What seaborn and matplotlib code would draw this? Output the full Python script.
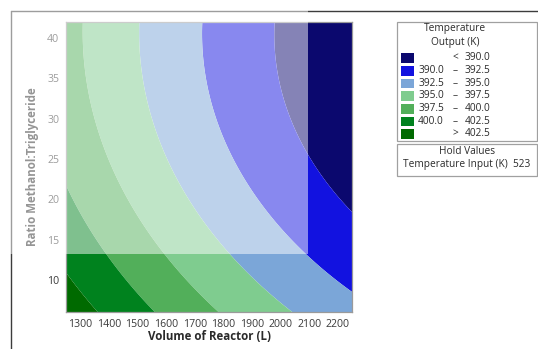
import numpy as np
import matplotlib
matplotlib.use("Agg")
import matplotlib.pyplot as plt
from matplotlib.patches import Rectangle
from matplotlib.lines import Line2D
import seaborn as sns

# Fitted response surface for Temperature Output (K), coded units:
# u = (Volume - 1750) / 500, w = (Ratio - 24) / 18
# terms: const, u, w, u^2, w^2, u*w
model_terms = ["const", "u", "w", "u2", "w2", "uw"]
model_coef = [393.5286, -5.3098, -2.8012, 0.7802, 1.5242, 0.0499]
volume_center, volume_half = 1750.0, 500.0
ratio_center, ratio_half = 24.0, 18.0

volume_range = [1250, 2250]
ratio_range = [6, 42]
x_ticks = [1300, 1400, 1500, 1600, 1700, 1800, 1900, 2000, 2100, 2200]
y_ticks = [10, 15, 20, 25, 30, 35, 40]

breaks = [390.0, 392.5, 395.0, 397.5, 400.0, 402.5]
band_colors = ["#0B086E", "#1212E0", "#7BA6D8", "#7FCC8F",
               "#52AF5A", "#00821E", "#006A00"]
hold_name = "Temperature Input (K)"
hold_value = 523

sns.set_style("white")
plt.rcParams["font.family"] = ["Open Sans", "DejaVu Sans"]

W, H = 538, 349
fig = plt.figure(figsize=(W / 100, H / 100), dpi=100)


def fx(px):
    return px / W


def fy(py):
    return 1 - py / H


ax = fig.add_axes([fx(66), fy(312), fx(352) - fx(66), fy(22) - fy(312)])

vv = np.linspace(volume_range[0], volume_range[1], 400)
rr = np.linspace(ratio_range[0], ratio_range[1], 400)
VV, RR = np.meshgrid(vv, rr)
uu = (VV - volume_center) / volume_half
ww = (RR - ratio_center) / ratio_half
c = model_coef
T = c[0] + c[1] * uu + c[2] * ww + c[3] * uu ** 2 + c[4] * ww ** 2 + c[5] * uu * ww

palette = sns.color_palette(band_colors)
levels = [-1e9] + breaks + [1e9]
ax.contourf(VV, RR, T, levels=levels, colors=palette, antialiased=True)

ax.set_xlim(volume_range)
ax.set_ylim(ratio_range)
ax.set_xticks(x_ticks)
ax.set_yticks(y_ticks)
ax.tick_params(axis="both", direction="out", length=3, width=0.8,
               color="#8c8c8c", labelsize=7.6, labelcolor="#3a3a3a", pad=2)
for s in ax.spines.values():
    s.set_visible(True)
    s.set_color("#9a9a9a")
    s.set_linewidth(0.9)

ax.set_xlabel("Volume of Reactor (L)", fontsize=8.3, fontweight="bold",
              color="#2a2a2a", va="center")
ax.xaxis.set_label_coords(0.5, (312 - 337) / 290)
ax.set_ylabel("Ratio Methanol:Triglyceride", fontsize=8.3, fontweight="bold",
              color="#2a2a2a", va="center")
ax.yaxis.set_label_coords((33 - 66) / 286, 0.5)

# outer frame of the graph window
fig.add_artist(Line2D([fx(11), 1], [fy(10.5), fy(10.5)], color="#3c3c3c", lw=1.0,
                      transform=fig.transFigure, zorder=2))
fig.add_artist(Line2D([fx(11), fx(11)], [fy(10.5), 0], color="#3c3c3c", lw=1.0,
                      transform=fig.transFigure, zorder=2))

# light wash over the upper-left part of the page
fig.add_artist(Rectangle((0, fy(254)), fx(308), 1 - fy(254), facecolor="white",
                         alpha=0.5, edgecolor="none", transform=fig.transFigure,
                         zorder=10))

# contour legend
box_l, box_r = 397, 537
fig.add_artist(Rectangle((fx(box_l), fy(141)), fx(box_r) - fx(box_l), fy(22) - fy(141),
                         facecolor="white", edgecolor="#a0a0a0", lw=0.9,
                         transform=fig.transFigure, zorder=3))
fig.add_artist(Rectangle((fx(box_l), fy(176)), fx(box_r) - fx(box_l), fy(144) - fy(176),
                         facecolor="white", edgecolor="#a0a0a0", lw=0.9,
                         transform=fig.transFigure, zorder=3))

txt = dict(fontsize=7.3, color="#2a2a2a", zorder=4)
fig.text(fx(455), fy(29), "Temperature", ha="center", va="center", **txt)
fig.text(fx(455), fy(43), "Output (K)", ha="center", va="center", **txt)

rows = [("", "<", f"{breaks[0]:.1f}")]
for lo, hi in zip(breaks[:-1], breaks[1:]):
    rows.append((f"{lo:.1f}", "\u2013", f"{hi:.1f}"))
rows.append(("", ">", f"{breaks[-1]:.1f}"))
row_y = [58, 70.7, 83.3, 96, 108.7, 121.3, 134]
for (a, op, b), yy, col in zip(rows, row_y, band_colors):
    fig.add_artist(Rectangle((fx(401), fy(yy + 4.8)), fx(414) - fx(401), fy(yy - 4.8) - fy(yy + 4.8),
                             facecolor=col, edgecolor="none",
                             transform=fig.transFigure, zorder=4))
    if a:
        fig.text(fx(444), fy(yy), a, ha="right", va="center", **txt)
    fig.text(fx(455), fy(yy), op, ha="center", va="center", **txt)
    fig.text(fx(465), fy(yy), b, ha="left", va="center", **txt)

fig.text(fx(467), fy(152), "Hold Values", ha="center", va="center", **txt)
fig.text(fx(467), fy(165), f"{hold_name}  {hold_value}", ha="center", va="center", **txt)

fig.savefig("out.png", dpi=100)
